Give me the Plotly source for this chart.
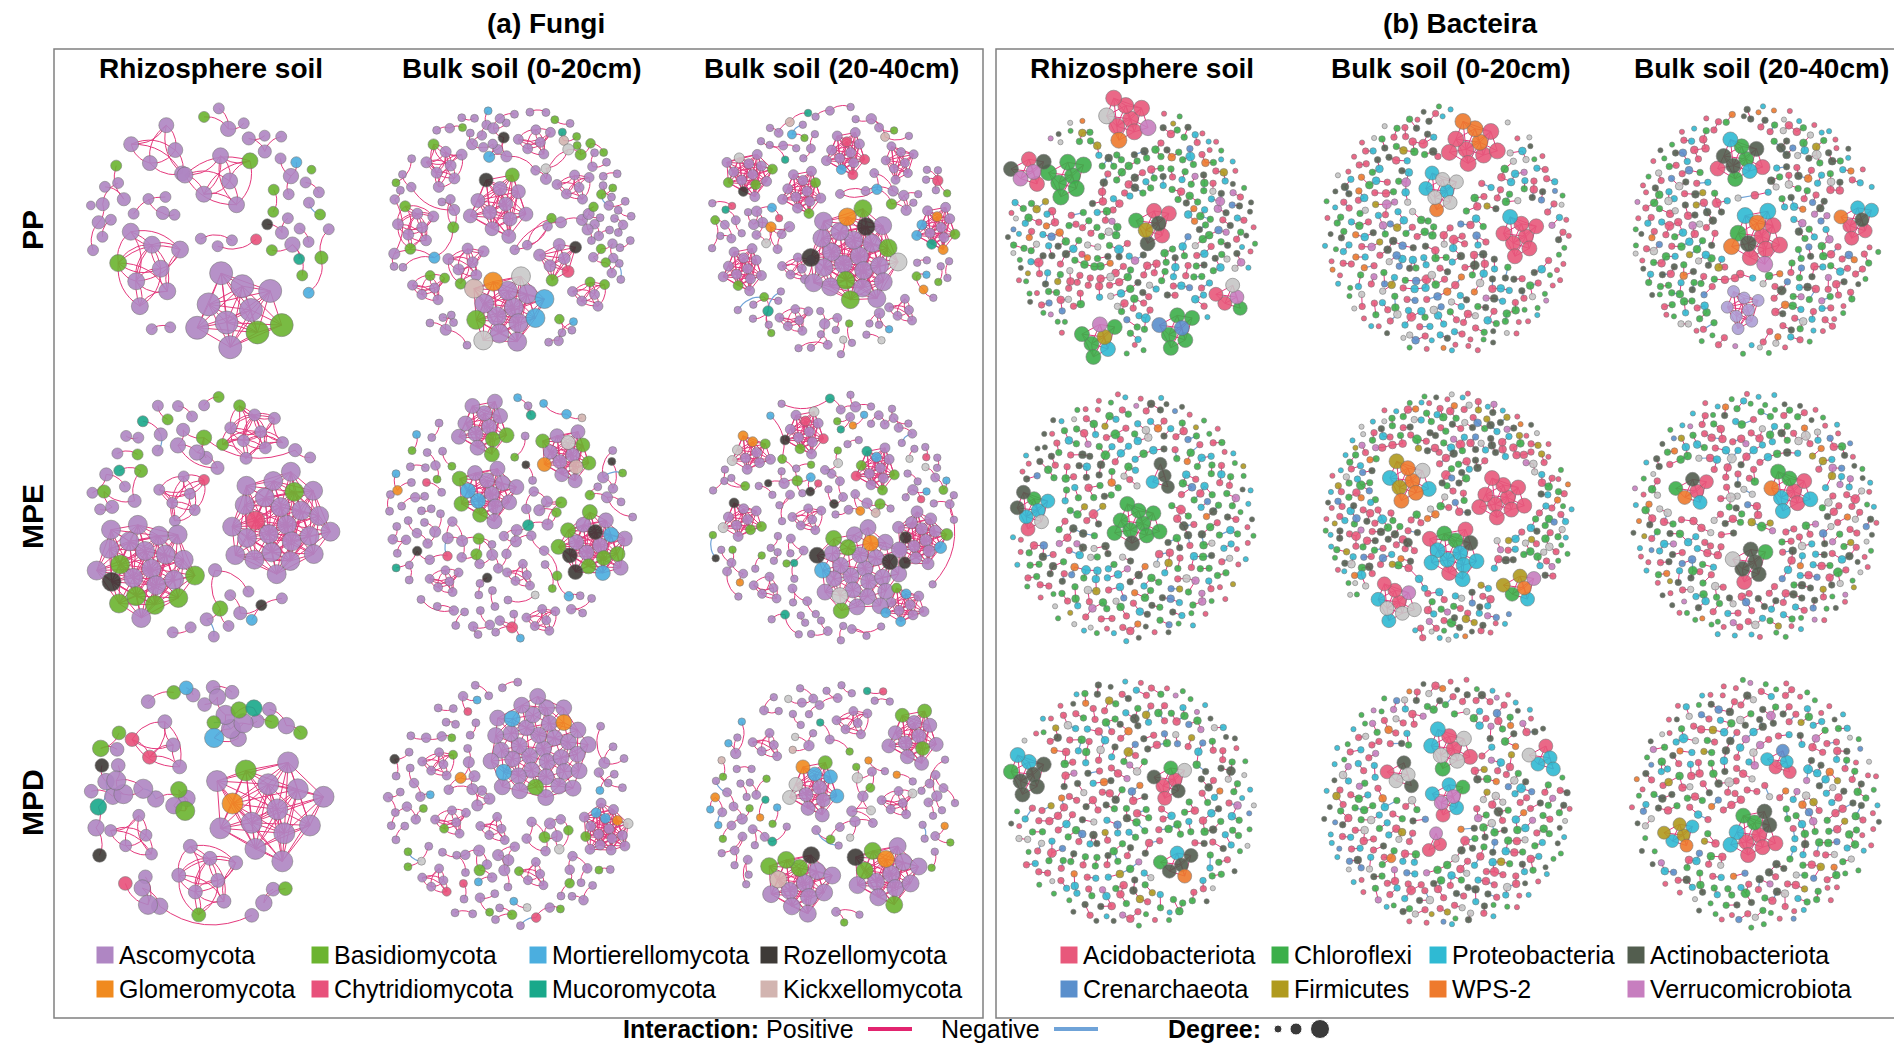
import math
import heapq
import plotly.graph_objects as go

W, H = 1902, 1046

ROWS = ["PP", "MPE", "MPD"]
COLS = ["Rhizosphere soil", "Bulk soil (0-20cm)", "Bulk soil (20-40cm)"]

# -------------------------
# Phyla and colours
# -------------------------
FUNGI_PHYLA = ["Ascomycota", "Basidiomycota", "Mortierellomycota", "Rozellomycota",
               "Glomeromycota", "Chytridiomycota", "Mucoromycota", "Kickxellomycota", "Other"]
FUNGI_CODES = "ABMRGCUKO"
FUNGI_COLORS = ["#AF86C3", "#6BB42F", "#4BAEDF", "#3E3A37",
                "#F08A1F", "#E8517B", "#19A88A", "#D2B4B0", "#C9C9C9"]

BACT_PHYLA = ["Acidobacteriota", "Chloroflexi", "Proteobacteria", "Actinobacteriota",
              "Crenarchaeota", "Firmicutes", "WPS-2", "Verrucomicrobiota", "Other", "Other2"]
BACT_CODES = "acptrfwvol"
BACT_COLORS = ["#E8587B", "#3CAF4A", "#2FBAD3", "#535E4F", "#5A8FCC",
               "#B09A1E", "#EE7A2D", "#C77EBF", "#C6C6C6", "#AE9FD6"]

# -------------------------
# Fungi networks (scattered node counts per phylum, modules, links)
# -------------------------
FUNGI_COUNTS = {
    ("PP", COLS[0]): [38, 9, 2, 1, 0, 1, 1, 0, 0],
    ("PP", COLS[1]): [76, 16, 4, 1, 0, 0, 1, 1, 2],
    ("PP", COLS[2]): [70, 10, 5, 0, 2, 3, 4, 2, 3],
    ("MPE", COLS[0]): [32, 7, 1, 1, 0, 0, 2, 0, 0],
    ("MPE", COLS[1]): [80, 12, 7, 4, 1, 3, 3, 1, 1],
    ("MPE", COLS[2]): [84, 12, 5, 4, 3, 3, 4, 1, 3],
    ("MPD", COLS[0]): [32, 10, 2, 2, 0, 1, 2, 0, 0],
    ("MPD", COLS[1]): [80, 12, 5, 1, 1, 3, 0, 0, 3],
    ("MPD", COLS[2]): [70, 12, 5, 0, 5, 1, 4, 2, 5],
}

FUNGI_MODULES = {
    ("PP", COLS[0]): ["AAABAAAABA", "AAAAA", "AAAAAB", "AAAABAAA"],
    ("PP", COLS[1]): ["AAAAAAAGMBOAKMO", "AAAAAAARAABA", "AAAAAAAB", "AAAAAABB",
                      "AAAAAAB", "AAACARB", "AAAAAA", "AAAAAA", "AABAAB", "AABAAB"],
    ("PP", COLS[2]): ["AAAAAABAAARAABAGARABAOABA", "AAABAAROABAAAB", "AAAAABAAAAAB",
                      "AACAAAMACAAC", "AAAAAAAA", "AAGAMAUABMAG", "AAAAAABAAAAA",
                      "AAAAAA", "AAAAA", "AAAAAA"],
    ("MPE", COLS[0]): ["AAAABABAARABAABABAAAAB", "AAAACAAAAABAAAAAAAAAAAAA",
                       "AAAAAAABAB", "AAAAACA"],
    ("MPE", COLS[1]): ["AAABAAAABAAB", "AMAAMABAABAABA", "AAOKABAABGAAB",
                       "AARBAMBABRAMBARBAB", "AAAAAA", "AAAAA", "AAAAAA"],
    ("MPE", COLS[2]): ["AAAAAAABAAGAAROAAMAABAAAARAB", "AAAARAAAMAAAABRA", "AACAAABACROA",
                       "AAMABAAUBCAB", "AAABAAARBO", "AAMAAAMBAM", "AAGAOBAGAO",
                       "AAAAAA", "AAAAA"],
    ("MPD", COLS[0]): ["AAAAGAABAAAAAA", "ACAAC", "AAAAAABA", "AAAAA"],
    ("MPD", COLS[1]): ["AAAAAAAAAAAAAAAAAAGBMAMAAAAAAAAAAAAAAA", "AAMAAGAMABAAAOAAA",
                       "AAAAAB", "ABAAAA", "AAAAA", "AAACA", "AAAAB"],
    ("MPD", COLS[2]): ["AABAKAABAARABA", "AAGABAABAAABRA", "AAMAOMAGMOBA",
                       "AAABAAABAABA", "AAAAAO", "AAAAA", "AAAAAA"],
}

# (positive, negative) links among the scattered nodes
FUNGI_LINKS = {
    ("PP", COLS[0]): (32, 1), ("PP", COLS[1]): (85, 2), ("PP", COLS[2]): (80, 3),
    ("MPE", COLS[0]): (33, 2), ("MPE", COLS[1]): (90, 2), ("MPE", COLS[2]): (84, 3),
    ("MPD", COLS[0]): (42, 3), ("MPD", COLS[1]): (84, 3), ("MPD", COLS[2]): (76, 4),
}

# -------------------------
# Bacteria networks
# -------------------------
BACT_COUNTS = {
    ("PP", COLS[0]): [80, 98, 46, 42, 10, 8, 10, 10, 18, 0],
    ("PP", COLS[1]): [102, 65, 64, 42, 14, 6, 10, 10, 28, 0],
    ("PP", COLS[2]): [98, 74, 46, 46, 12, 5, 12, 10, 23, 0],
    ("MPE", COLS[0]): [84, 92, 55, 50, 11, 10, 8, 10, 17, 0],
    ("MPE", COLS[1]): [106, 65, 55, 50, 14, 17, 12, 12, 26, 0],
    ("MPE", COLS[2]): [110, 65, 55, 46, 14, 12, 10, 14, 28, 0],
    ("MPD", COLS[0]): [92, 83, 46, 50, 10, 10, 8, 10, 18, 0],
    ("MPD", COLS[1]): [97, 65, 55, 46, 12, 8, 10, 17, 26, 0],
    ("MPD", COLS[2]): [101, 74, 46, 46, 14, 10, 8, 12, 23, 0],
}

BACT_MODULES = {
    ("PP", COLS[0]): ["aaaaoawav", "ccccccc", "tfaacat", "vvaatt", "fcvpccc", "rcccrcc", "vaoca"],
    ("PP", COLS[1]): ["wawaaaawaa", "pooopowp", "aaaaaaap"],
    ("PP", COLS[2]): ["atwacaapawpv", "ctcpttcpaa", "tapawpa", "llllllll"],
    ("MPE", COLS[0]): ["cccccctccc", "ppcotpat", "tptt"],
    ("MPE", COLS[1]): ["wfwwpowfp", "ppcpptacppapa", "aaaaaaaaaa", "aoaopvpao", "wcfpfv"],
    ("MPE", COLS[2]): ["apcawapcp", "ttttoca", "awtpca"],
    ("MPD", COLS[0]): ["ttptcttp", "aacttoa", "ttpwct"],
    ("MPD", COLS[1]): ["aoaopocpa", "vvpppca", "ppapo", "ootta", "aav"],
    ("MPD", COLS[2]): ["aacaptacapt", "fpfwfp", "parap"],
}

BACT_LINKS = {
    ("PP", COLS[0]): (175, 30), ("PP", COLS[1]): (180, 30), ("PP", COLS[2]): (175, 30),
    ("MPE", COLS[0]): (175, 30), ("MPE", COLS[1]): (185, 30), ("MPE", COLS[2]): (175, 30),
    ("MPD", COLS[0]): (175, 30), ("MPD", COLS[1]): (175, 30), ("MPD", COLS[2]): (175, 30),
}

# -------------------------
# Layout: panel placement, module anchors (u, v in circle units), node size, spacing
# -------------------------
FUNGI_X = [200, 501, 825]
BACT_X = [1123, 1440, 1748]
ROW_Y = [222, 509, 795]
RADIUS = 129

FUNGI_MODULE_LAYOUT = {
    ("PP", COLS[0]): [(0.25, 0.62, 23, 1.25), (-0.34, -0.62, 15, 2.0),
                      (0.08, -0.38, 16, 1.9), (-0.45, 0.3, 17, 1.7)],
    ("PP", COLS[1]): [(-0.02, 0.6, 19, 1.06), (-0.08, -0.2, 14, 1.35), (-0.5, -0.5, 11, 1.5),
                      (-0.72, -0.02, 11, 1.5), (-0.33, 0.25, 11, 1.5), (0.38, 0.22, 12, 1.4),
                      (0.2, -0.68, 10, 1.5), (0.5, -0.33, 10, 1.5), (-0.62, 0.45, 10, 1.5),
                      (0.62, 0.5, 10, 1.5)],
    ("PP", COLS[2]): [(0.15, 0.2, 18, 1.05), (-0.66, -0.43, 10, 1.3), (-0.24, -0.3, 10, 1.3),
                      (0.1, -0.6, 10, 1.3), (0.52, -0.52, 9, 1.45), (0.8, -0.02, 10, 1.3),
                      (-0.7, 0.3, 10, 1.3), (-0.3, 0.7, 9, 1.5), (0.55, 0.62, 9, 1.5),
                      (-0.28, 0.3, 9, 1.5)],
    ("MPE", COLS[0]): [(-0.5, 0.4, 19, 1.12), (0.55, 0.06, 19, 1.12),
                       (0.35, -0.66, 12, 1.7), (-0.2, -0.18, 11, 1.9)],
    ("MPE", COLS[1]): [(-0.2, -0.7, 15, 1.08), (-0.18, -0.18, 15, 1.08), (0.45, -0.48, 14, 1.08),
                       (0.66, 0.22, 15, 1.08), (-0.5, 0.5, 9, 1.5), (0.1, 0.45, 9, 1.5),
                       (0.25, 0.8, 9, 1.5)],
    ("MPE", COLS[2]): [(0.2, 0.4, 16, 1.03), (0.68, 0.18, 12, 1.15), (-0.22, -0.66, 10, 1.3),
                       (0.33, -0.38, 10, 1.3), (-0.7, 0.02, 10, 1.3), (0.56, 0.68, 10, 1.3),
                       (-0.63, -0.5, 10, 1.3), (-0.2, 0.02, 9, 1.5), (-0.5, 0.55, 9, 1.5)],
    ("MPD", COLS[0]): [(0.45, 0.05, 21, 1.45), (-0.35, -0.45, 14, 2.0),
                       (0.0, 0.6, 14, 1.9), (-0.55, 0.25, 12, 2.0)],
    ("MPD", COLS[1]): [(0.22, -0.42, 16, 1.03), (0.74, 0.2, 10, 1.25), (-0.55, -0.3, 9, 1.6),
                       (-0.45, 0.15, 9, 1.6), (-0.1, 0.2, 9, 1.6), (-0.55, 0.6, 9, 1.6),
                       (0.2, 0.55, 9, 1.6)],
    ("MPD", COLS[2]): [(-0.27, 0.62, 17, 1.06), (0.4, 0.55, 17, 1.06), (-0.15, -0.12, 14, 1.15),
                       (0.62, -0.52, 14, 1.15), (0.5, 0.0, 9, 1.6), (-0.5, -0.45, 9, 1.6),
                       (0.15, -0.62, 9, 1.6)],
}

BACT_MODULE_LAYOUT = {
    ("PP", COLS[0]): [(-0.05, -0.86, 16, 1.02), (-0.5, -0.42, 16, 1.02), (0.17, -0.05, 15, 1.02),
                      (-0.8, -0.45, 15, 1.02), (-0.25, 0.83, 15, 1.02), (0.35, 0.76, 15, 1.02),
                      (0.78, 0.52, 14, 1.02)],
    ("PP", COLS[1]): [(0.2, -0.68, 16, 1.02), (-0.05, -0.3, 14, 1.02), (0.56, 0.05, 15, 1.02)],
    ("PP", COLS[2]): [(0.0, 0.05, 16, 1.02), (-0.12, -0.55, 15, 1.02), (0.78, -0.08, 14, 1.02),
                      (-0.1, 0.62, 12, 1.2)],
    ("MPE", COLS[0]): [(0.05, 0.05, 15, 1.02), (-0.76, -0.05, 14, 1.02), (0.22, -0.32, 13, 1.1)],
    ("MPE", COLS[1]): [(-0.32, -0.28, 15, 1.02), (0.05, 0.28, 15, 1.02), (0.42, -0.15, 15, 1.02),
                       (-0.42, 0.66, 14, 1.02), (0.55, 0.55, 14, 1.02)],
    ("MPE", COLS[2]): [(0.25, -0.2, 15, 1.02), (-0.05, 0.35, 15, 1.02), (-0.5, -0.2, 14, 1.02)],
    ("MPD", COLS[0]): [(-0.8, -0.22, 15, 1.02), (0.3, -0.18, 14, 1.02), (0.35, 0.48, 14, 1.02)],
    ("MPD", COLS[1]): [(0.0, -0.42, 15, 1.02), (0.0, -0.05, 14, 1.02), (0.75, -0.35, 14, 1.02),
                       (-0.35, -0.22, 14, 1.02), (-0.1, 0.32, 13, 1.02)],
    ("MPD", COLS[2]): [(-0.02, 0.25, 15, 1.02), (-0.6, 0.25, 13, 1.02), (0.2, -0.32, 13, 1.02)],
}

FUNGI_DOT = {COLS[0]: 11, COLS[1]: 8, COLS[2]: 7.5}
BACT_DOT = 6.5

POS_COLOR = "#E2246F"
NEG_COLOR = "#6FA3D8"
FONT = "Liberation Sans, Arial, sans-serif"
GOLDEN = 2.399963229728653


# -------------------------
# Helpers for the network layout
# -------------------------
def sunflower(n):
    c = 1 / 1.9
    return [(c * math.sqrt(i + 0.5) * math.cos(i * GOLDEN), c * math.sqrt(i + 0.5) * math.sin(i * GOLDEN))
            for i in range(n)]


def interleave(counts):
    total = sum(counts)
    used = [0] * len(counts)
    seq = []
    for t in range(total):
        best = max(range(len(counts)), key=lambda k: (t + 1) * counts[k] / total - used[k])
        used[best] += 1
        seq.append(best)
    return seq


def scramble(n, mult):
    return sorted(range(n), key=lambda i: (i * mult) % 4294967291)


def spiral(n, radius, excl):
    m = n
    while True:
        s = math.sqrt(math.pi * radius * radius / m)
        pts = []
        for i in range(m):
            r = radius * math.sqrt((i + 0.5) / m)
            th = i * GOLDEN
            jx = ((i * 0.7548776662) % 1 - 0.5) * 0.4 * s
            jy = ((i * 0.5698402910) % 1 - 0.5) * 0.4 * s
            x, y = r * math.cos(th) + jx, r * math.sin(th) + jy
            if math.hypot(x, y) > radius:
                continue
            if all((x - ex) ** 2 + (y - ey) ** 2 > er * er for ex, ey, er in excl):
                pts.append((x, y))
        if len(pts) >= n:
            break
        m = int(m * 1.03) + 1
    return [pts[int(k * len(pts) / n)] for k in range(n)]


def build_panel(cx, cy, counts, modules, mod_layout, links, dot, kseq, curved):
    nodes = []
    pos_e, neg_e = [], []
    excl = []
    for codes, (u, v, d, sp) in zip(modules, mod_layout):
        mx, my = u * RADIUS, v * RADIUS
        offs = sunflower(len(codes))
        step = d * sp
        start = len(nodes)
        for ch, (ox, oy) in zip(codes, offs):
            nodes.append([cx + mx + ox * step, cy + my + oy * step, d, ch])
        ext = max(math.hypot(ox, oy) for ox, oy in offs) * step + d / 2
        excl.append((mx, my, ext + dot * 0.5))
        if sp < 1.04:
            thr = 1.9
        elif sp < 1.5:
            thr = 2.6
        else:
            thr = 2.3
        thr *= step
        for a in range(start, len(nodes)):
            for b in range(a + 1, len(nodes)):
                if math.hypot(nodes[a][0] - nodes[b][0], nodes[a][1] - nodes[b][1]) <= thr:
                    pos_e.append((a, b, curved and sp >= 1.5))

    n = sum(counts)
    seq = interleave(counts)
    pts = spiral(n, RADIUS - dot * 0.6, excl)
    order = scramble(n, 2654435761)
    base = len(nodes)
    labels = [None] * n
    for k, i in enumerate(order):
        labels[i] = seq[k]
    for i in range(n):
        nodes.append([cx + pts[i][0], cy + pts[i][1], dot, labels[i]])

    near = []
    for i in range(n):
        near.append(heapq.nsmallest(5, (j for j in range(n) if j != i),
                                    key=lambda j: (pts[j][0] - pts[i][0]) ** 2 + (pts[j][1] - pts[i][1]) ** 2))
    n_pos, n_neg = links
    made = []
    seen = set()
    deg = [0] * n
    order2 = scramble(n, 40503)
    t = 0
    for pas in range(4):
        for i in order2:
            if len(made) >= n_pos:
                break
            if pas == 0 and deg[i] > 0:
                continue
            k = kseq[t % len(kseq)]
            t += 1
            j = near[i][k - 1]
            key = (min(i, j), max(i, j))
            if key in seen:
                continue
            seen.add(key)
            made.append(key)
            deg[i] += 1
            deg[j] += 1
    every = max(1, len(made) // max(1, n_neg))
    for idx, (i, j) in enumerate(made):
        e = (base + i, base + j, curved)
        if n_neg and idx % every == every // 2 and len(neg_e) < n_neg:
            neg_e.append(e)
        else:
            pos_e.append(e)
    for i in range(n):
        nodes[base + i][2] = dot * (0.8 + 0.2 * min(deg[i], 3))
    return nodes, pos_e, neg_e


def edge_xy(nodes, edges):
    xs, ys = [], []
    for idx, (a, b, curved) in enumerate(edges):
        x0, y0 = nodes[a][0], nodes[a][1]
        x1, y1 = nodes[b][0], nodes[b][1]
        if curved:
            L = math.hypot(x1 - x0, y1 - y0)
            sgn = 1 if idx % 2 == 0 else -1
            px, py = -(y1 - y0) / (L or 1), (x1 - x0) / (L or 1)
            qx = (x0 + x1) / 2 + px * 0.3 * L * sgn
            qy = (y0 + y1) / 2 + py * 0.3 * L * sgn
            for s in range(9):
                tt = s / 8
                xs.append((1 - tt) ** 2 * x0 + 2 * (1 - tt) * tt * qx + tt * tt * x1)
                ys.append((1 - tt) ** 2 * y0 + 2 * (1 - tt) * tt * qy + tt * tt * y1)
        else:
            xs += [x0, x1]
            ys += [y0, y1]
        xs.append(None)
        ys.append(None)
    return xs, ys


# -------------------------
# Build all 18 networks
# -------------------------
fungi_nodes, bact_nodes = [], []
pos_xy = ([], [])
neg_xy = ([], [])
for r, row in enumerate(ROWS):
    for c, col in enumerate(COLS):
        key = (row, col)
        nd, pe, ne = build_panel(FUNGI_X[c], ROW_Y[r], FUNGI_COUNTS[key], FUNGI_MODULES[key],
                                 FUNGI_MODULE_LAYOUT[key], FUNGI_LINKS[key],
                                 FUNGI_DOT[col] * (1.25 if (c == 0 and r == 2) else 1),
                                 [2, 3, 1, 4, 2, 3], True)
        for n_ in nd:
            if isinstance(n_[3], str):
                n_[3] = FUNGI_CODES.index(n_[3])
        for src, dst in ((pe, pos_xy), (ne, neg_xy)):
            xs, ys = edge_xy(nd, src)
            dst[0].extend(xs)
            dst[1].extend(ys)
        fungi_nodes.extend(nd)

        nd, pe, ne = build_panel(BACT_X[c], ROW_Y[r], BACT_COUNTS[key], BACT_MODULES[key],
                                 BACT_MODULE_LAYOUT[key], BACT_LINKS[key], BACT_DOT, [1, 1, 2], False)
        for n_ in nd:
            if isinstance(n_[3], str):
                n_[3] = BACT_CODES.index(n_[3])
        for src, dst in ((pe, pos_xy), (ne, neg_xy)):
            xs, ys = edge_xy(nd, src)
            dst[0].extend(xs)
            dst[1].extend(ys)
        bact_nodes.extend(nd)

fig = go.Figure()

fig.add_trace(go.Scatter(x=pos_xy[0], y=pos_xy[1], mode="lines",
                         line=dict(color=POS_COLOR, width=1.0), opacity=0.9, hoverinfo="skip"))
fig.add_trace(go.Scatter(x=neg_xy[0], y=neg_xy[1], mode="lines",
                         line=dict(color=NEG_COLOR, width=1.2), hoverinfo="skip"))

for nodes, names, colors in ((fungi_nodes, FUNGI_PHYLA, FUNGI_COLORS),
                             (bact_nodes, BACT_PHYLA, BACT_COLORS)):
    nodes_sorted = sorted(nodes, key=lambda n_: n_[2])
    for k, name in enumerate(names):
        sel = [n_ for n_ in nodes_sorted if n_[3] == k]
        if not sel:
            continue
        fig.add_trace(go.Scatter(
            x=[n_[0] for n_ in sel], y=[n_[1] for n_ in sel], mode="markers", name=name,
            marker=dict(size=[n_[2] for n_ in sel], color=colors[k], opacity=0.9,
                        line=dict(color="#6f6f6f", width=0.6)),
            hoverinfo="skip"))

# -------------------------
# Legends
# -------------------------
LEG_Y = [947, 981]
FUNGI_LEG_X = [97, 312, 530, 761]
BACT_LEG_X = [1061, 1272, 1430, 1628]

annotations = []
for names, colors, xs in ((FUNGI_PHYLA, FUNGI_COLORS, FUNGI_LEG_X),
                          (BACT_PHYLA, BACT_COLORS, BACT_LEG_X)):
    lx, ly, lc = [], [], []
    for k in range(8):
        x = xs[k % 4]
        y = LEG_Y[k // 4]
        lx.append(x)
        ly.append(y)
        lc.append(colors[k])
        annotations.append(dict(x=x + 12, y=y, text=names[k], showarrow=False, xanchor="left",
                                yanchor="middle", font=dict(size=25, color="black", family=FONT)))
    fig.add_trace(go.Scatter(x=lx, y=ly, mode="markers",
                             marker=dict(symbol="square", size=17, color=lc), hoverinfo="skip"))

BOTTOM_Y = 1021
fig.add_trace(go.Scatter(x=[860, 904], y=[BOTTOM_Y, BOTTOM_Y], mode="lines",
                         line=dict(color=POS_COLOR, width=4), hoverinfo="skip"))
fig.add_trace(go.Scatter(x=[1046, 1090], y=[BOTTOM_Y, BOTTOM_Y], mode="lines",
                         line=dict(color=NEG_COLOR, width=4), hoverinfo="skip"))
fig.add_trace(go.Scatter(x=[1270, 1288, 1312], y=[BOTTOM_Y] * 3, mode="markers",
                         marker=dict(size=[8, 12, 19], color="#3a3a3a", opacity=1), hoverinfo="skip"))
annotations += [
    dict(x=613, y=BOTTOM_Y, text="<b>Interaction:</b> Positive", xanchor="left"),
    dict(x=931, y=BOTTOM_Y, text="Negative", xanchor="left"),
    dict(x=1158, y=BOTTOM_Y, text="<b>Degree:</b>", xanchor="left"),
]
for a in annotations[-3:]:
    a.update(showarrow=False, yanchor="middle", font=dict(size=25, color="black", family=FONT))

# titles
for x, t in ((538, "(a) Fungi"), (1452, "(b) Bacteira")):
    annotations.append(dict(x=x, y=15, text="<b>%s</b>" % t, showarrow=False,
                            font=dict(size=28, color="black", family=FONT)))
for xs in ([203, 514, 823], [1134, 1443, 1753]):
    for x, t in zip(xs, COLS):
        annotations.append(dict(x=x, y=60, text="<b>%s</b>" % t, showarrow=False,
                                font=dict(size=28, color="black", family=FONT)))
for y, t in zip(ROW_Y, ROWS):
    annotations.append(dict(x=24, y=y, text="<b>%s</b>" % t, showarrow=False, textangle=-90,
                            font=dict(size=30, color="black", family=FONT)))

for a in annotations:
    a.update(xref="x", yref="y")

shapes = [
    dict(type="rect", xref="x", yref="y", x0=46, x1=975, y0=41, y1=1010,
         line=dict(color="#808080", width=1.5)),
    dict(type="rect", xref="x", yref="y", x0=988, x1=1895, y0=41, y1=1010,
         line=dict(color="#808080", width=1.5)),
]

fig.update_layout(
    width=W, height=H, margin=dict(l=0, r=0, t=0, b=0),
    paper_bgcolor="white", plot_bgcolor="white", showlegend=False,
    xaxis=dict(range=[0, W], visible=False, fixedrange=True),
    yaxis=dict(range=[H, 0], visible=False, fixedrange=True),
    annotations=annotations, shapes=shapes,
)

fig.write_html("out.html")
